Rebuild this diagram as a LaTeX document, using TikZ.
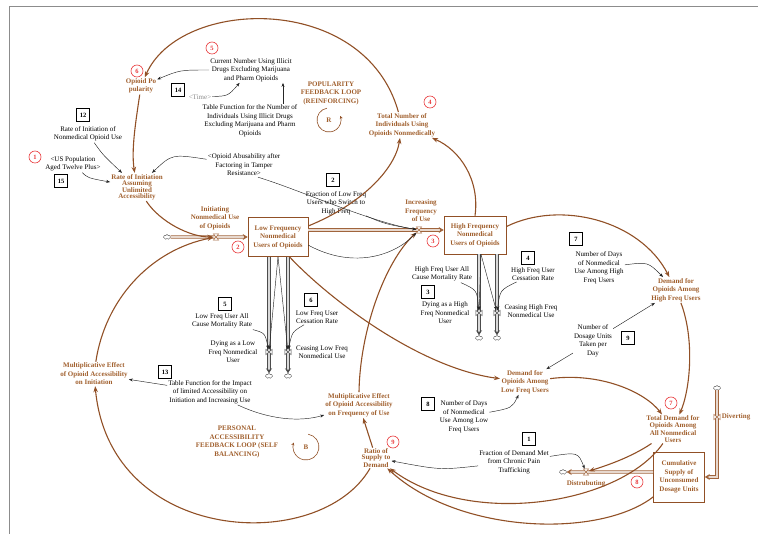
\documentclass[tikz,border=0pt]{standalone}
\usepackage{fontspec}
\setmainfont{Liberation Serif}
\usetikzlibrary{arrows.meta, positioning, shapes.symbols, calc}
\definecolor{sdbrown}{RGB}{145,80,38}
\definecolor{sdtext}{RGB}{160,95,45}
\definecolor{sdred}{RGB}{232,56,58}
\definecolor{sdpipe}{RGB}{160,100,60}

\begin{document}
\begin{tikzpicture}[x=1pt, y=-1pt,
    every node/.style={font=\fontsize{7}{8.5}\selectfont, align=center, inner sep=1pt},
    lbl/.style={text=black},
    var/.style={text=sdtext, font=\fontsize{7}{8.5}\selectfont\bfseries},
    stock/.style={var, draw=sdbrown, line width=0.6pt, minimum width=60pt, minimum height=39pt, inner sep=2pt},
    num/.style={draw, line width=0.7pt, minimum size=13pt, inner sep=0pt, font=\fontsize{6.5}{7}\selectfont\bfseries},
    tag/.style={circle, draw=sdred, text=sdred, line width=0.6pt, minimum size=12pt, inner sep=0pt, font=\fontsize{6.5}{7}\selectfont\bfseries},
    link/.style={-{Stealth[length=4pt,width=3pt]}, black!85, line width=0.45pt},
    cause/.style={-{Stealth[length=6pt,width=4.5pt]}, sdbrown, line width=1.1pt},
    pipe/.style={draw=sdpipe, double=sdpipe!25, double distance=1.8pt, line width=0.8pt, -{Stealth[length=5pt,width=6pt]}},
    gpipe/.style={pipe, draw=black!70, double=black!15},
    valve/.style={minimum width=5pt, minimum height=6pt, inner sep=0pt},
    sink/.style={cloud, cloud puffs=7, draw=black!70, minimum width=7pt, minimum height=5pt, inner sep=0pt, line width=0.4pt}]

  \useasboundingbox (0,0) rectangle (758,534);
  \draw[black!45, line width=0.8pt] (9,534) -- (9,6) -- (758,6);

  % Popolarita'
  \node[lbl] (RIN) at (88,134) {Rate of Initiation of\\Nonmedical Opioid Use};
  \node[num] (N12) at (83,115) {12};
  \node[lbl] (USP) at (73,164) {<US Population\\Aged Twelve Plus>};
  \node[tag] (T1) at (35,157) {1};
  \node[num] (N15) at (61,181) {15};
  \node[var] (POP) at (141,86) {Opioid Po\\pularity};
  \node[tag] (T6) at (137,71) {6};
  \node[lbl] (CUR) at (251,70) {Current Number Using Illicit\\Drugs Excluding Marijuana\\and Pharm Opioids};
  \node[tag] (T5) at (212,48) {5};
  \node[lbl, text=black!45] (TIME) at (200,97) {<Time>};
  \node[num] (N14) at (178,90) {14};
  \node[lbl] (TFN) at (250,121) {Table Function for the Number of\\Individuals Using Illicit Drugs\\Excluding Marijuana and Pharm\\Opioids};
  \node[lbl] (ABU) at (244,165) {<Opioid Abusability after\\Factoring in Tamper\\Resistance>};
  \node[var] (PFL) at (331,93) {POPULARITY\\FEEDBACK LOOP\\(REINFORCING)};
  \node[var] (R) at (329,120) {R};
  \node[var] (TNU) at (402,125) {Total Number of\\Individuals Using\\Opioids Nonmedically};
  \node[tag] (T4) at (430,102) {4};
  \node[var, font=\fontsize{7}{6}\selectfont\bfseries] (RIA) at (137,187) {Rate of Initiation\\Assuming\\Unlimited\\Accessibility};

  % Stock e flussi
  \node[stock] (LFU) at (278,237) {Low Frequency\\Nonmedical\\Users of Opioids};
  \node[tag] (T2) at (238,247) {2};
  \node[var] (INIT) at (215,218) {Initiating\\Nonmedical Use\\of Opioids};
  \node[valve] (vInit) at (216,237) {};
  \node[sink] (cInit) at (167,237) {};
  \node[var] (INC) at (421,211) {Increasing\\Frequency\\of Use};
  \node[valve] (vInc) at (419,230) {};
  \node[stock, minimum width=62pt, minimum height=38pt] (HFU) at (475,235) {High Frequency\\Nonmedical\\Users of Opioids};
  \node[tag] (T3) at (433,241) {3};
  \node[lbl] (FLS) at (336,203) {Fraction of Low Freq\\Users who Switch to\\High Freq};
  \node[num] (N2) at (333,180) {2};

  % Uscite bassa frequenza
  \node[valve, minimum width=6pt, minimum height=5pt] (vDyL) at (269,352) {};
  \node[valve, minimum width=6pt, minimum height=5pt] (vCeL) at (288,352) {};
  \node[sink] (cDyL) at (269,376) {};
  \node[sink] (cCeL) at (288,376) {};
  \node[lbl] (LAM) at (222,321) {Low Freq User All\\Cause Mortality Rate};
  \node[num] (N5) at (225,304) {5};
  \node[lbl] (DYL) at (233,352) {Dying as a Low\\Freq Nonmedical\\User};
  \node[lbl] (LCR) at (317,317) {Low Freq User\\Cessation Rate};
  \node[num] (N6) at (311,300) {6};
  \node[lbl] (CEL) at (322,352) {Ceasing Low Freq\\Nonmedical Use};

  % Uscite alta frequenza
  \node[valve, minimum width=6pt, minimum height=5pt] (vDyH) at (479,313) {};
  \node[valve, minimum width=6pt, minimum height=5pt] (vCeH) at (497,313) {};
  \node[sink] (cDyH) at (479,338) {};
  \node[sink] (cCeH) at (497,338) {};
  \node[lbl] (HAM) at (442,274) {High Freq User All\\Cause Mortality Rate};
  \node[num] (N3) at (428,292) {3};
  \node[lbl] (DYH) at (445,313) {Dying as a High\\Freq Nonmedical\\User};
  \node[lbl] (HCR) at (533,274) {High Freq User\\Cessation Rate};
  \node[num] (N4) at (528,258) {4};
  \node[lbl] (CEH) at (531,311) {Ceasing High Freq\\Nonmedical Use};

  % Domanda e offerta
  \node[lbl] (NDH) at (599,268) {Number of Days\\of Nonmedical\\Use Among High\\Freq Users};
  \node[num] (N7) at (576,239) {7};
  \node[var] (DEH) at (676,290) {Demand for\\Opioids Among\\High Freq Users};
  \node[lbl] (NDU) at (593,341) {Number of\\Dosage Units\\Taken per\\Day};
  \node[num] (N9) at (628,338) {9};
  \node[var] (DEL) at (525,382) {Demand for\\Opioids Among\\Low Freq Users};
  \node[lbl] (NDL) at (464,417) {Number of Days\\of Nonmedical\\Use Among Low\\Freq Users};
  \node[num] (N8) at (428,404) {8};
  \node[var, font=\fontsize{7}{7.2}\selectfont\bfseries] (TDA) at (673,429) {Total Demand for\\Opioids Among\\All Nonmedical\\Users};
  \node[tag] (T7) at (671,403) {7};
  \node[stock, minimum width=51pt, minimum height=50pt] (CSU) at (679,477) {Cumulative\\Supply of\\Unconsumed\\Dosage Units};
  \node[tag] (T8) at (637,482) {8};
  \node[valve] (vDis) at (586,472) {};
  \node[sink] (cDis) at (563,472) {};
  \node[var] (DIS) at (586,484) {Distrubuting};
  \node[sink] (cDiv) at (717,388) {};
  \node[valve, minimum width=6pt, minimum height=5pt] (vDiv) at (717,417) {};
  \node[var, right=0.5pt of vDiv] (DIV) {Diverting};
  \node[lbl] (FDM) at (514,462) {Fraction of Demand Met\\from Chronic Pain\\Trafficking};
  \node[num] (N1) at (529,439) {1};

  % Accessibilita'
  \node[var, font=\fontsize{7}{4.5}\selectfont\bfseries] (RAT) at (376,458) {Ratio of\\Supply to\\Demand};
  \node[tag] (T9) at (393,442) {9};
  \node[var] (MEF) at (359,405) {Multiplicative Effect\\of Opioid Accessibility\\on Frequency of Use};
  \node[var] (MEI) at (94,374) {Multiplicative Effect\\of Opioid Accessibility\\on Initiation};
  \node[lbl] (TFI) at (210,392) {Table Function for the Impact\\of limited Accessibility on\\Initiation and Increasing Use};
  \node[num] (N13) at (165,372) {13};
  \node[var] (PAL) at (237,442) {PERSONAL\\ACCESSIBILITY\\FEEDBACK LOOP (SELF\\BALANCING)};
  \node[var] (B) at (306,447) {B};

  % Anelli
  \draw[sdbrown, line width=0.6pt, -{Stealth[length=3pt,width=3pt]}] ([shift={(100:12pt)}]R.center) arc[start angle=100, end angle=380, radius=12pt];
  \draw[sdbrown, line width=0.6pt, -{Stealth[length=3pt,width=3pt]}] ([shift={(80:13pt)}]B.center) arc[start angle=80, end angle=-200, radius=13pt];

  % Tubi
  \draw[pipe] (cInit) -- (LFU.west);
  \draw[pipe] (LFU.east |- vInc) -- (HFU.west |- vInc);
  \draw[gpipe] (LFU.south -| vDyL) -- (cDyL);
  \draw[gpipe] (LFU.south -| vCeL) -- (cCeL);
  \draw[gpipe] (HFU.south -| vDyH) -- (cDyH);
  \draw[gpipe] (HFU.south -| vCeH) -- (cCeH);
  \draw[pipe] (CSU.west |- vDis) -- (cDis);
  \draw[pipe] (cDiv.south) |- (CSU.east);

  % Valvole
  \foreach \v in {vInit, vInc, vDis}
    \draw[sdpipe, fill=white, line width=0.5pt] (\v.north west) -- (\v.north east) -- (\v.south west) -- (\v.south east) -- cycle;
  \foreach \v in {vDyL, vCeL, vDyH, vCeH}
    \draw[black!70, fill=white, line width=0.5pt] (\v.north west) -- (\v.south west) -- (\v.north east) -- (\v.south east) -- cycle;
  \draw[sdpipe, fill=white, line width=0.5pt] (vDiv.north west) -- (vDiv.south west) -- (vDiv.north east) -- (vDiv.south east) -- cycle;

  % Frecce causali
  \draw[cause] (TNU) .. controls (365,-8) and (180,-3) .. (POP);
  \draw[cause] (POP) .. controls (136,120) and (131,150) .. (RIA);
  \draw[cause] (RIA) .. controls (160,222) and (190,237) .. (vInit);
  \draw[cause] (LFU.20) .. controls (360,205) and (395,170) .. (TNU);
  \draw[cause] (HFU.north) .. controls (480,180) and (460,150) .. (TNU);
  \draw[cause] (HFU.15) .. controls (560,200) and (640,220) .. (DEH);
  \draw[cause] (DEH) .. controls (695,340) and (690,390) .. (TDA);
  \draw[cause] (LFU.-60) .. controls (330,300) and (420,368) .. (DEL);
  \draw[cause] (DEL) .. controls (600,372) and (645,392) .. (TDA);
  \draw[cause] (TDA) .. controls (630,458) and (605,466) .. (vDis);
  \draw[cause] (TDA) .. controls (620,505) and (470,528) .. (RAT);
  \draw[cause] (CSU) .. controls (600,538) and (460,535) .. (RAT);
  \draw[cause] (RAT) -- (MEF);
  \draw[cause] (MEF.north) .. controls (360,330) and (385,262) .. (vInc);
  \draw[cause] (RAT) .. controls (320,555) and (110,545) .. (MEI);
  \draw[cause] (MEI) .. controls (105,300) and (150,250) .. (vInit);

  % Collegamenti informativi
  \draw[link] (CUR) .. controls (180,70) .. (POP);
  \draw[link] (TIME) .. controls (228,96) .. (CUR);
  \draw[link] ([xshift=33pt]TFN.north) -- ([xshift=32pt]CUR.south);
  \draw[link] (RIN) .. controls (103,155) .. (RIA);
  \draw[link] (USP) .. controls (88,178) .. (RIA);
  \draw[link] (ABU) .. controls (172,154) .. (RIA);
  \draw[link] ([xshift=14pt]ABU.south) .. controls (300,190) and (370,222) .. (vInc);
  \draw[link] (FLS) .. controls (385,224) .. (vInc);
  \draw[link] (LFU.-15) .. controls (350,268) and (392,258) .. (vInc);
  \draw[link] (LFU.south) -- (vDyL);
  \draw[link] (LFU.south) -- (vCeL);
  \draw[link] ([xshift=6pt]HFU.south) -- (vDyH);
  \draw[link] ([xshift=6pt]HFU.south) -- (vCeH);
  \draw[link] (LAM) .. controls (265,333) .. (vDyL);
  \draw[link] (LCR) .. controls (292,332) .. (vCeL);
  \draw[link] (HAM) .. controls (477,290) .. (vDyH);
  \draw[link] (HCR) .. controls (500,290) .. (vCeH);
  \draw[link] (NDH) .. controls (648,262) .. (DEH);
  \draw[link] (NDU) -- (DEH);
  \draw[link] (NDU) -- (DEL);
  \draw[link] (NDL) .. controls (512,408) .. (DEL);
  \draw[link] (TFI) -- (MEI);
  \draw[link] (TFI) .. controls (270,420) and (300,422) .. (MEF);
  \draw[link] (FDM) .. controls (440,470) .. (RAT);
  \draw[link] (FDM) .. controls (578,452) .. (vDis);

\end{tikzpicture}
\end{document}
